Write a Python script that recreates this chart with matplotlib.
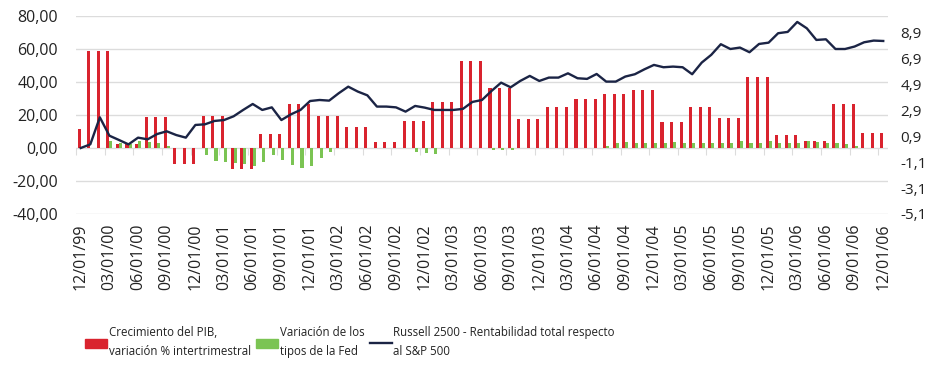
import numpy as np
import pandas as pd
import matplotlib.pyplot as plt
from matplotlib.patches import Patch
from matplotlib.lines import Line2D

plt.rcParams['font.family'] = ['Open Sans', 'DejaVu Sans']
plt.rcParams['axes.unicode_minus'] = False

# monthly categories 12/01/99 .. 12/01/06
months = pd.date_range('1999-12-01', periods=85, freq='MS').strftime('%m/%d/%y').tolist()

gdp = [11.7,
       58.5, 58.5, 58.5, 2.5, 2.5, 2.5, 18.5, 18.5, 18.5, -10, -10, -10,
       19.5, 19.5, 19.5, -12.5, -12.5, -12.5, 8.5, 8.5, 8.5, 26.5, 26.5, 26.5,
       19.5, 19.5, 19.5, 12.5, 12.5, 12.5, 3.4, 3.4, 3.4, 16.4, 16.4, 16.4,
       28, 28, 28, 53, 53, 53, 36.5, 36.5, 36.5, 17.8, 17.8, 17.8,
       25, 25, 25, 29.5, 29.5, 29.5, 32.7, 32.7, 32.7, 35.2, 35.2, 35.2,
       15.6, 15.6, 15.6, 25, 25, 25, 18, 18, 18, 42.8, 42.8, 42.8,
       7.7, 7.7, 7.7, 4.2, 4.2, 4.2, 26.5, 26.5, 26.5, 8.9, 8.9, 8.9]

fed = [0, 0, 0, 4.0, 2.8, 2.3, 4.0, 3.8, 3.0, 1.2,
       0, 0, 0,
       -4, -8, -8.5, -9, -10, -11, -8.5, -4.4, -7, -10.3, -12.3, -11, -6, -2.2,
       0, 0, 0, 0, 0, 0, 0, 0,
       -2.5, -3.2, -3.5,
       0, 0, 0, 0, 0,
       -1.2, -1.2, -1.2,
       0, 0, 0, 0, 0, 0, 0, 0, 0,
       1.2, 2.8, 3.6, 3.2, 3.2, 3.2, 3.2, 3.6, 2.8, 3.2, 3.2, 2.8, 3.2, 3.2,
       4.0, 3.2, 3.2, 4.0, 3.2, 2.8, 2.8, 4.2, 3.4, 2.8, 3.2, 2.4, 1.2,
       0, 0, 0]

russell = [0, 0.28, 2.37, 0.95, 0.62, 0.28, 0.8, 0.67, 1.08, 1.29,
           1.0, 0.8, 1.78, 1.83, 2.09, 2.16, 2.45, 2.94, 3.4, 2.94,
           3.14, 2.16, 2.6, 2.94, 3.63, 3.71, 3.66, 4.23, 4.74, 4.36,
           4.07, 3.2, 3.2, 3.14, 2.81, 3.25, 3.12, 2.94, 2.94, 2.94,
           3.02, 3.56, 3.71, 4.41, 5.05, 4.69, 5.18, 5.57, 5.18, 5.44,
           5.44, 5.77, 5.39, 5.34, 5.72, 5.13, 5.13, 5.52, 5.7, 6.08,
           6.42, 6.24, 6.29, 6.24, 5.7, 6.6, 7.2, 8.02, 7.65, 7.76,
           7.4, 8.04, 8.14, 8.87, 8.97, 9.74, 9.25, 8.35, 8.4, 7.65,
           7.65, 7.84, 8.17, 8.3, 8.27]

left_ticks = [-40, -20, 0, 20, 40, 60, 80]
right_ticks = [-5.1, -3.1, -1.1, 0.9, 2.9, 4.9, 6.9, 8.9]

red = '#d9232e'
green = '#7bc453'
navy = '#1b2445'
grid_c = '#dcdcdc'
txt_c = '#222222'

x = np.arange(len(months))

fig = plt.figure(figsize=(9.39, 3.73), dpi=100)
ax = fig.add_axes([0.0809, 0.4263, 0.8648, 0.5308])

ax.bar(x - 0.16, gdp, width=0.32, color=red, zorder=2)
ax.bar(x + 0.16, fed, width=0.32, color=green, zorder=2)
ax.set_ylim(-40, 80)
ax.set_xlim(-0.5, len(months) - 0.5)
ax.set_yticks(left_ticks)
ax.set_yticklabels([f'{v:.2f}'.replace('.', ',') for v in left_ticks])
ax.grid(axis='y', color=grid_c, lw=1)
ax.set_axisbelow(True)
ax.set_xticks(x[::3])
ax.set_xticklabels(months[::3], rotation=90)
ax.tick_params(axis='both', length=0, labelsize=11.5, labelcolor=txt_c)
ax.tick_params(axis='x', pad=7)
ax.tick_params(axis='y', pad=13)
for s in ax.spines.values():
    s.set_visible(False)

# category ticks hanging from the zero line
sec = ax.secondary_xaxis(1 / 3)
sec.set_xticks(np.arange(-0.5, len(months), 3))
sec.set_xticklabels([])
sec.tick_params(length=5, color=grid_c, direction='out')
sec.spines['bottom'].set_visible(False)

ax2 = ax.twinx()
ax2.plot(x, russell, color=navy, lw=1.7, zorder=3)
ax2.set_ylim(-5.1, 10.2)
ax2.set_yticks(right_ticks)
ax2.set_yticklabels([f'{v:.1f}'.replace('.', ',') for v in right_ticks])
ax2.tick_params(axis='y', length=0, pad=9, labelsize=11, labelcolor=txt_c)
for s in ax2.spines.values():
    s.set_visible(False)

handles = [Patch(color=red), Patch(color=green), Line2D([], [], color=navy, lw=1.7)]
labels = ['Crecimiento del PIB,\nvariación % intertrimestral',
          'Variación de los\ntipos de la Fed',
          'Russell 2500 - Rentabilidad total respecto\nal S&P 500']
leg = fig.legend(handles, labels, loc='upper left', bbox_to_anchor=(0.086, 0.138),
                 ncol=3, frameon=False, handlelength=1.9, handleheight=0.85,
                 handletextpad=0.15, columnspacing=0.45, borderaxespad=0,
                 prop={'family': ['Open Sans', 'DejaVu Sans'], 'size': 8.3})
for t in leg.get_texts():
    t.set_linespacing(1.6)
    t.set_color(txt_c)

fig.savefig('out.png', dpi=100)
